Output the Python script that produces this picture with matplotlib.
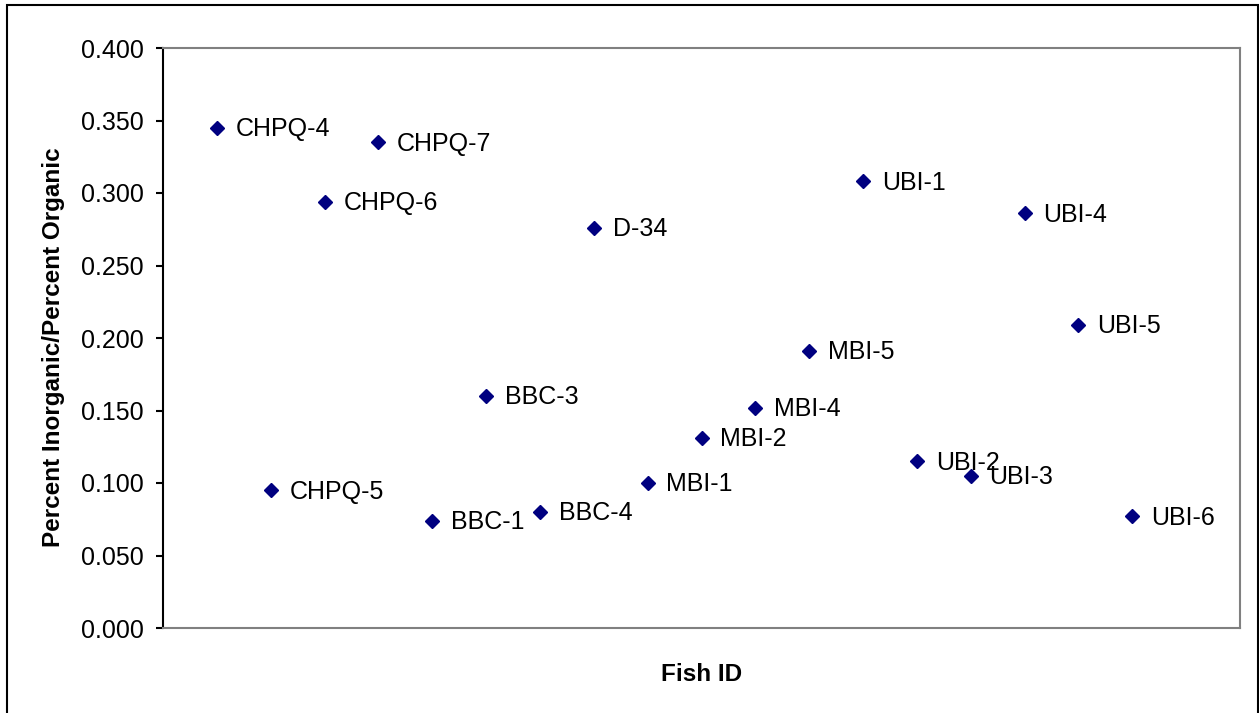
import numpy as np
import matplotlib.pyplot as plt
from matplotlib.patches import Rectangle

plt.rcParams.update({
    'font.family': ['Liberation Sans', 'DejaVu Sans'],
    'font.size': 18,
})

fish_ids = ['CHPQ-4', 'CHPQ-5', 'CHPQ-6', 'CHPQ-7', 'BBC-1', 'BBC-3', 'BBC-4',
            'D-34', 'MBI-1', 'MBI-2', 'MBI-4', 'MBI-5', 'UBI-1', 'UBI-2',
            'UBI-3', 'UBI-4', 'UBI-5', 'UBI-6']
ratio = [0.345, 0.095, 0.294, 0.335, 0.074, 0.160, 0.080,
         0.276, 0.100, 0.131, 0.152, 0.191, 0.308, 0.115,
         0.105, 0.286, 0.209, 0.077]
yticks = [0.0, 0.05, 0.10, 0.15, 0.20, 0.25, 0.30, 0.35, 0.40]

fig = plt.figure(figsize=(12.59, 7.13), dpi=100)
ax = fig.add_axes([163 / 1259, 1 - 628 / 713, (1240 - 163) / 1259, (628 - 48) / 713])

xpos = np.arange(1, len(fish_ids) + 1)
ax.plot(xpos, ratio, linestyle='none', marker='D', ms=7.5, color='#000080')
for x, y, name in zip(xpos, ratio, fish_ids):
    ax.annotate(name, (x, y), xytext=(13.5, -1), textcoords='offset points',
                ha='left', va='center', fontsize=18, color='black')

ax.set_xlim(0, 20)
ax.set_ylim(0, 0.4)
ax.set_yticks(yticks)
ax.set_yticklabels([f'{v:.3f}' for v in yticks], fontsize=18)
ax.set_xticks([])
ax.tick_params(axis='y', direction='out', length=5, width=1.5, pad=9, color='black')

for side in ['top', 'right', 'bottom']:
    ax.spines[side].set_color('#808080')
    ax.spines[side].set_linewidth(1.5)
ax.spines['left'].set_color('black')
ax.spines['left'].set_linewidth(1.5)

ax.set_xlabel('Fish ID', fontsize=17.5, fontweight='bold')
ax.xaxis.label.set_va('center')
ax.xaxis.set_label_coords(0.5, -0.081)
ax.set_ylabel('Percent Inorganic/Percent Organic', fontsize=17.5, fontweight='bold')
ax.yaxis.label.set_va('center')
ax.yaxis.set_label_coords(-0.102, 0.485)

# outer chart border
fig.patches.append(Rectangle((7 / 1259, -0.02), (1258 - 7) / 1259, 1 - 5 / 713 + 0.02,
                             transform=fig.transFigure, fill=False,
                             edgecolor='black', linewidth=1.5))

fig.savefig('out.png', dpi=100)
